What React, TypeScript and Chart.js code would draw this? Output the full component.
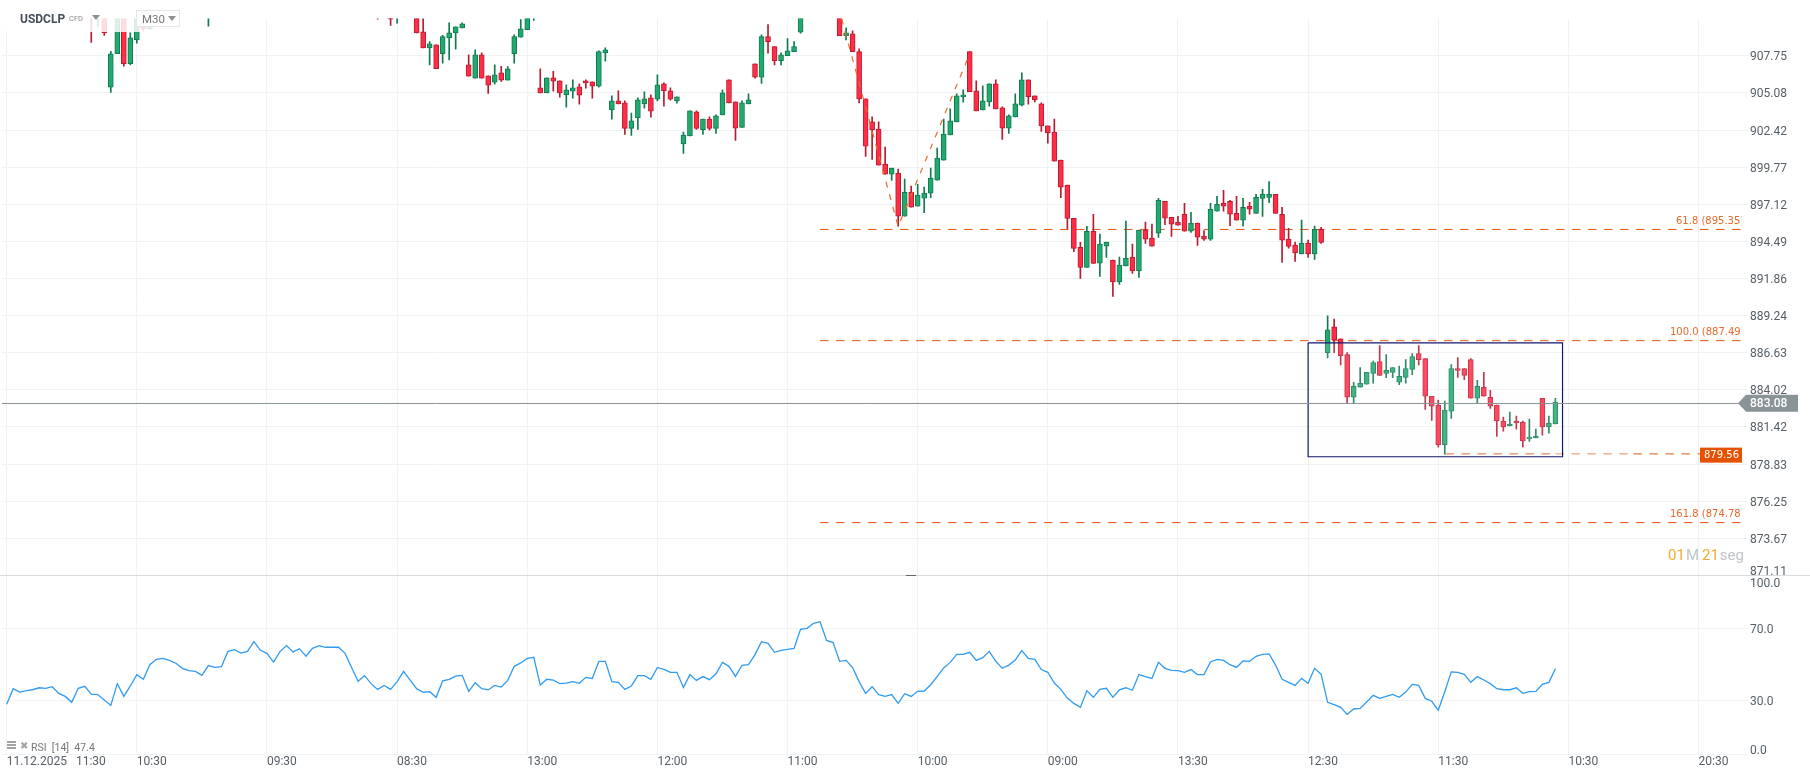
import { useEffect, useRef } from "react"
import { Chart, registerables } from "chart.js"

Chart.register(...registerables)

const FONT = "Roboto, sans-serif"
const GRID = "#f1f2f3"
const UP = "#22a96f"
const UP_EDGE = "#107a50"
const DOWN = "#ff2d46"
const DOWN_EDGE = "#b81b30"
const PRICE_GREY = "#8a9397"
const FIB = "#e0560e"

// Slot 0 is the first candle of the window, one vertical grid line every 20 slots
const timeLabels = [
  "11.12.2025   11:30", "10:30", "09:30", "08:30", "13:00", "12:00", "11:00",
  "10:00", "09:00", "13:30", "12:30", "11:30", "10:30", "20:30",
]
const priceTicks = [
  907.75, 905.08, 902.42, 899.77, 897.12, 894.49, 891.86, 889.24,
  886.63, 884.02, 881.42, 878.83, 876.25, 873.67, 871.11,
]
const rsiTicks = [100, 70, 30, 0]

const fibLevels = [61.8, 100, 161.8]
const fibPrices = [895.35, 887.49, 874.78]
const currentPrice = 883.08
const targetPrice = 879.56
const zigzagSlots = [128.3, 137, 148]
const zigzagPrices = [910.44, 895.56, 907.91]
const boxSlots = [200, 239.1]
const boxPrices = [887.34, 879.36]

// Candles above the top of the pane are clipped, only the visible ones are kept
const candleSlots = [
  13, 14, 15, 16, 17, 18, 19, 20, 21, 22,
  31, 57, 59, 60,
  63, 64, 65, 66, 67, 68, 69, 70, 71, 72,
  73, 74, 75, 76, 77, 78, 79, 80, 81, 82,
  83, 84, 85, 86, 87, 88, 89, 90, 91, 92,
  93, 94, 95, 96, 97, 98, 99, 100, 101, 102,
  103, 104, 105, 106, 107, 108, 109, 110, 111, 112,
  113, 114, 115, 116, 117, 118, 119, 120, 121, 122,
  128, 129, 130, 131, 132, 133, 134, 135, 136, 137,
  138, 139, 140, 141, 142, 143, 144, 145, 146, 147,
  148, 149, 150, 151, 152, 153, 154, 155, 156, 157,
  158, 159, 160, 161, 162, 163, 164, 165, 166, 167,
  168, 169, 170, 171, 172, 173, 174, 175, 176, 177,
  178, 179, 180, 181, 182, 183, 184, 185, 186, 187,
  188, 189, 190, 191, 192, 193, 194, 195, 196, 197,
  198, 199, 200, 201, 202, 203, 204, 205, 206, 207,
  208, 209, 210, 211, 212, 213, 214, 215, 216, 217,
  218, 219, 220, 221, 222, 223, 224, 225, 226, 227,
  228, 229, 230, 231, 232, 233, 234, 235, 236, 237, 238,
]
const opens = [
  911.6, 911.0, 911.5, 905.49, 907.89, 911.2, 907.17, 908.88, 911.0, 909.67,
  911.0, 911.0, 910.6, 911.0,
  911.5, 909.48, 908.32, 908.54, 907.89, 909.04, 909.40, 909.76, 907.10, 906.14,
  907.82, 906.31, 905.85, 906.52, 906.00, 907.89, 909.09, 909.62, 911.0, 905.44,
  905.08, 906.16, 905.95, 904.94, 905.20, 905.52, 905.95, 905.88, 905.56, 907.96,
  903.86, 904.51, 904.36, 902.54, 903.28, 904.29, 904.72, 904.63, 905.73, 905.23,
  904.51, 901.42, 901.99, 903.72, 902.42, 903.21, 902.54, 903.50, 906.02, 904.44,
  902.61, 904.29, 907.17, 906.21, 909.12, 908.40, 907.39, 907.75, 908.04, 909.45,
  911.5, 909.19, 909.33, 908.04, 904.65, 903.00, 902.49, 899.99, 899.27, 899.34,
  896.27, 897.98, 896.98, 897.55, 897.91, 898.84, 900.27, 902.06, 903.00, 904.80,
  908.04, 905.23, 903.86, 904.44, 905.73, 904.00, 902.56, 903.36, 904.20, 906.02,
  904.87, 904.29, 902.71, 902.28, 900.27, 898.48, 896.12, 894.06, 892.64, 895.20,
  892.95, 894.15, 893.16, 891.61, 892.74, 893.38, 892.39, 895.28, 894.72, 895.07,
  897.33, 896.20, 895.85, 896.41, 895.21, 895.78, 894.86, 894.65, 896.63, 897.19,
  897.33, 896.48, 895.99, 896.98, 896.48, 897.54, 897.61, 897.83, 896.41, 894.65,
  894.22, 893.59, 894.36, 893.59, 895.35, 886.63, 888.44, 887.60, 886.49, 883.50,
  884.20, 884.41, 885.17, 886.00, 885.17, 885.24, 884.55, 884.89, 885.45, 886.56,
  886.21, 883.57, 882.95, 880.17, 882.53, 885.52, 885.52, 886.14, 883.43, 884.20,
  883.50, 882.95, 881.84, 881.49, 881.84, 881.77, 880.59, 880.65, 883.43, 881.42, 881.63,
]
const closes = [
  911.0, 911.4, 909.40, 907.89, 911.0, 907.17, 909.04, 911.0, 909.69, 911.0,
  911.5, 910.50, 910.39, 911.4,
  909.40, 908.32, 908.61, 906.81, 909.12, 909.40, 909.84, 910.05, 906.28, 907.82,
  906.14, 905.64, 906.38, 906.00, 906.81, 909.12, 909.69, 911.0, 911.5, 905.08,
  906.16, 905.92, 905.08, 905.30, 905.44, 904.92, 905.80, 905.56, 908.04, 908.18,
  904.51, 904.29, 902.54, 903.07, 904.58, 904.65, 903.76, 905.66, 905.23, 904.63,
  904.80, 902.06, 903.79, 902.54, 903.21, 902.54, 903.43, 905.08, 904.36, 902.56,
  904.36, 904.58, 906.21, 909.12, 908.76, 907.39, 907.82, 908.11, 908.40, 911.0,
  909.19, 909.40, 908.04, 904.65, 901.27, 902.42, 899.91, 899.27, 899.70, 896.27,
  897.98, 896.91, 897.77, 897.91, 898.98, 900.41, 902.13, 903.07, 904.87, 904.94,
  905.16, 903.79, 904.51, 905.73, 903.93, 902.56, 903.43, 904.29, 906.02, 904.80,
  904.58, 902.71, 902.21, 900.20, 898.34, 896.12, 893.99, 892.64, 895.20, 892.92,
  894.29, 894.44, 891.61, 892.81, 893.30, 892.39, 895.28, 894.65, 894.15, 897.40,
  896.13, 895.71, 895.64, 895.21, 895.78, 894.79, 894.65, 896.77, 897.12, 896.98,
  896.41, 895.99, 896.91, 896.77, 897.61, 897.83, 897.83, 896.48, 894.58, 894.13,
  893.66, 894.36, 893.59, 895.35, 894.41, 888.23, 887.53, 886.42, 883.50, 884.27,
  884.48, 885.24, 885.94, 885.03, 885.38, 885.59, 884.96, 885.52, 886.35, 886.14,
  883.57, 882.88, 880.17, 882.60, 885.52, 885.38, 885.03, 883.43, 884.27, 883.57,
  882.88, 881.84, 881.42, 881.63, 881.70, 880.45, 880.72, 880.79, 881.42, 881.70, 883.16,
]
const highs = [
  911.8, 911.8, 911.8, 908.06, 911.2, 911.4, 909.40, 911.2, 911.2, 911.2,
  911.7, 911.2, 910.8, 911.6,
  911.7, 911.0, 908.76, 908.54, 909.21, 910.12, 909.84, 910.12, 907.82, 908.18,
  907.96, 906.31, 907.10, 906.98, 906.96, 909.26, 910.36, 911.2, 911.7, 906.81,
  906.16, 906.62, 905.95, 905.66, 906.02, 905.73, 906.02, 905.88, 908.11, 908.32,
  904.87, 905.23, 904.51, 903.64, 904.72, 905.16, 904.94, 906.38, 905.80, 905.44,
  904.80, 902.28, 903.79, 903.79, 903.21, 903.36, 903.50, 905.30, 906.02, 904.44,
  904.51, 905.01, 907.17, 909.26, 910.00, 908.40, 907.96, 908.98, 908.76, 911.2,
  911.7, 909.76, 909.55, 908.25, 904.65, 903.36, 903.00, 901.20, 899.70, 899.63,
  898.91, 898.41, 898.55, 898.34, 899.70, 901.13, 903.21, 903.93, 905.01, 905.30,
  908.04, 905.95, 905.59, 905.73, 906.02, 904.08, 903.50, 905.01, 906.52, 906.02,
  904.87, 904.36, 902.71, 903.21, 900.27, 898.48, 896.12, 894.42, 895.56, 896.41,
  895.00, 894.44, 893.16, 893.38, 895.92, 894.29, 895.28, 895.85, 895.71, 897.54,
  897.33, 896.20, 896.27, 897.19, 896.55, 895.78, 895.26, 897.19, 897.69, 898.11,
  897.40, 897.69, 897.54, 897.26, 897.83, 898.18, 898.74, 897.83, 896.91, 895.42,
  894.44, 895.99, 894.58, 895.57, 895.49, 889.22, 888.99, 887.60, 886.63, 884.55,
  885.59, 885.24, 886.03, 887.12, 886.49, 885.59, 885.68, 886.14, 886.56, 887.12,
  886.21, 883.57, 883.30, 883.23, 885.80, 886.28, 885.52, 886.21, 884.68, 885.24,
  883.99, 882.95, 882.11, 882.46, 882.18, 881.84, 881.98, 881.28, 883.43, 882.18, 883.43,
]
const lows = [
  908.71, 909.86, 909.21, 905.11, 907.89, 907.00, 907.08, 908.66, 909.57, 909.67,
  909.88, 910.39, 909.93, 910.10,
  909.40, 908.32, 907.08, 906.81, 907.22, 907.44, 908.23, 909.76, 906.28, 906.14,
  906.14, 905.04, 905.71, 905.90, 906.00, 907.22, 909.09, 909.62, 910.29, 905.08,
  905.08, 905.20, 904.77, 904.05, 904.70, 904.27, 905.42, 904.70, 905.49, 907.36,
  903.19, 904.29, 902.11, 902.04, 902.47, 903.98, 903.33, 904.51, 904.12, 904.56,
  904.34, 900.75, 901.99, 902.47, 902.11, 902.40, 902.18, 903.50, 904.36, 901.68,
  902.61, 904.29, 906.14, 905.76, 907.94, 907.08, 907.08, 907.75, 908.04, 909.38,
  909.19, 908.88, 908.04, 904.36, 900.53, 900.32, 899.91, 899.27, 898.82, 895.56,
  896.27, 896.91, 896.98, 896.53, 897.60, 898.84, 900.27, 902.06, 903.00, 904.41,
  905.16, 903.79, 903.86, 904.12, 903.93, 901.75, 902.18, 903.36, 904.15, 904.27,
  904.44, 902.32, 901.47, 900.20, 897.60, 895.39, 893.75, 891.86, 892.64, 892.92,
  892.01, 893.35, 890.60, 891.44, 892.74, 892.22, 891.94, 894.34, 894.15, 894.76,
  895.68, 894.84, 895.64, 895.21, 895.12, 894.20, 894.55, 894.55, 896.63, 896.63,
  895.61, 895.99, 895.57, 896.41, 896.48, 896.25, 897.24, 896.48, 893.00, 894.01,
  893.07, 893.59, 893.35, 893.21, 894.34, 886.26, 886.63, 885.77, 883.13, 883.09,
  884.20, 884.41, 884.48, 885.03, 884.87, 884.87, 884.38, 884.48, 885.08, 885.77,
  882.65, 881.88, 880.01, 879.52, 882.02, 884.89, 884.73, 883.43, 883.13, 883.57,
  882.72, 880.77, 881.12, 881.49, 881.26, 880.01, 880.42, 880.65, 880.84, 880.98, 881.63,
]

// One RSI value per slot, 0 to 238
const rsiValues = [
  27.6, 36.3, 34.4, 35.2, 35.7, 36.8, 36.5, 37.4, 33.7, 32.0,
  28.7, 36.5, 37.6, 33.3, 33.0, 30.0, 27.0, 39.1, 32.0, 37.8,
  44.1, 41.5, 49.6, 52.6, 53.1, 52.0, 50.4, 47.6, 46.3, 45.9,
  43.7, 49.1, 48.1, 48.5, 57.0, 58.0, 56.1, 57.0, 62.4, 57.6,
  55.9, 51.1, 56.9, 60.2, 56.7, 58.5, 54.3, 58.7, 60.2, 59.3,
  59.3, 59.3, 55.9, 48.1, 40.4, 43.5, 39.1, 35.9, 38.1, 35.9,
  40.2, 45.9, 41.1, 36.3, 34.3, 34.6, 31.5, 40.6, 41.5, 43.3,
  43.7, 34.8, 39.6, 36.3, 35.6, 38.1, 37.2, 40.9, 48.7, 50.6,
  53.1, 53.7, 38.3, 41.5, 41.1, 39.1, 39.4, 40.2, 39.3, 42.6,
  42.0, 51.5, 51.5, 40.2, 39.8, 35.9, 37.8, 43.5, 43.5, 41.5,
  48.1, 47.0, 45.4, 45.4, 37.0, 44.1, 40.9, 43.0, 41.3, 44.6,
  50.9, 48.7, 43.1, 49.3, 49.6, 55.2, 62.4, 61.5, 56.5, 57.6,
  58.1, 58.7, 69.3, 69.8, 72.6, 73.5, 63.1, 61.9, 51.5, 52.0,
  48.0, 40.2, 33.7, 37.4, 33.0, 32.0, 33.0, 28.1, 33.5, 32.0,
  34.8, 35.0, 38.5, 43.1, 47.8, 50.9, 55.4, 55.4, 56.5, 52.0,
  53.5, 57.0, 51.5, 47.6, 49.4, 52.2, 57.4, 53.1, 52.6, 46.9,
  45.4, 39.4, 35.9, 31.1, 28.1, 25.9, 35.2, 31.5, 35.9, 36.5,
  31.5, 35.6, 36.8, 35.4, 44.1, 43.0, 42.0, 50.9, 47.6, 46.5,
  46.3, 45.4, 46.9, 44.1, 44.1, 51.1, 52.6, 52.0, 49.6, 48.1,
  51.7, 51.5, 54.3, 55.4, 55.6, 49.4, 41.5, 39.8, 38.1, 42.0,
  39.3, 47.6, 44.3, 28.7, 27.4, 25.9, 22.0, 25.0, 25.3, 28.9,
  32.6, 30.9, 32.0, 33.1, 31.5, 34.4, 38.7, 38.1, 30.9, 29.3,
  24.3, 34.6, 45.6, 45.4, 44.3, 39.8, 43.0, 41.1, 39.1, 36.3,
  35.7, 35.7, 36.8, 33.7, 34.6, 34.8, 38.7, 39.8, 47.4,
]

const SLOT_MIN = -0.72
const SLOT_MAX = 267.6

const level = (slots: number[], price: number) => slots.map((x) => ({ x, y: price }))

const line = (data: { x: number; y: number }[], color: string, dash: number[], order: number, width = 1) => ({
  type: "line" as const,
  data,
  borderColor: color,
  borderWidth: width,
  borderDash: dash,
  pointRadius: 0,
  tension: 0,
  fill: false,
  order,
})

const timeGrid = (showLabels: boolean) => ({
  type: "linear" as const,
  min: SLOT_MIN,
  max: SLOT_MAX,
  offset: false,
  afterFit: (scale: any) => {
    scale.height = showLabels ? 25 : 0
  },
  afterBuildTicks: (scale: any) => {
    scale.ticks = timeLabels.map((_, i) => ({ value: i * 20 }))
  },
  grid: { color: GRID, lineWidth: 1, drawTicks: false, offset: false },
  border: { display: false },
  ticks: {
    display: showLabels,
    autoSkip: false,
    maxRotation: 0,
    align: "start" as const,
    padding: 1,
    color: "#555e66",
    font: { family: FONT, size: 12 },
    callback: (value: number | string) => timeLabels[Number(value) / 20],
  },
})

// Nudges the horizontal level lines onto whole pixel rows so they stay 1px sharp
const crispLines = {
  id: "crispLines",
  beforeDatasetDraw(chart: any, args: any) {
    if (args.meta.type === "line") {
      chart.ctx.save()
      chart.ctx.translate(0, 0.23)
    }
  },
  afterDatasetDraw(chart: any, args: any) {
    if (args.meta.type === "line") chart.ctx.restore()
  },
}

// Price labels, levels and the two price tags sit on top of the candles
const priceOverlay = {
  id: "priceOverlay",
  afterDatasetsDraw(chart: any) {
    const { ctx, scales } = chart
    const y = scales.y
    ctx.save()
    ctx.textBaseline = "middle"
    ctx.font = "10px 'DejaVu Sans'"
    ctx.fillStyle = "#e8692a"
    ctx.beginPath()
    ctx.rect(1600, 0, 141.5, 779)
    ctx.clip()
    fibLevels.forEach((lv, i) => {
      const text = `${lv.toFixed(1)} (${fibPrices[i].toFixed(2)})`
      ctx.fillText(text, i === 0 ? 1676 : 1670, y.getPixelForValue(fibPrices[i]) - 8)
    })
    ctx.restore()

    const targetY = y.getPixelForValue(targetPrice)
    ctx.fillStyle = "#e65100"
    ctx.fillRect(1700, targetY - 6, 42, 15)
    ctx.fillStyle = "#ffffff"
    ctx.textBaseline = "middle"
    ctx.font = "10px 'DejaVu Sans'"
    ctx.fillText(targetPrice.toFixed(2), 1704, targetY + 1.5)

    const nowY = y.getPixelForValue(currentPrice)
    ctx.fillStyle = PRICE_GREY
    ctx.beginPath()
    ctx.moveTo(1738, nowY)
    ctx.lineTo(1746, nowY - 8.5)
    ctx.lineTo(1798, nowY - 8.5)
    ctx.lineTo(1798, nowY + 8.5)
    ctx.lineTo(1746, nowY + 8.5)
    ctx.closePath()
    ctx.fill()
    ctx.fillStyle = "#ffffff"
    ctx.font = `500 12px ${FONT}`
    ctx.fillText(currentPrice.toFixed(2), 1750, nowY + 0.5)
  },
}

// A blank line next to a label moves it by half a line height, which is how
// the tick labels get their small vertical offsets from the grid lines
const tickFont = (value: number) => {
  let lineHeight = 0.25
  if (value === 871.11) lineHeight = 0.5
  if (value === 100) lineHeight = 1.6
  if (value === 0) lineHeight = 0.5
  return { family: FONT, size: 12, lineHeight }
}

const tickText = (value: number, text: string) =>
  value === 871.11 || value === 0 ? [text, ""] : ["", text]

export default function App() {
  const priceRef = useRef<HTMLCanvasElement>(null)
  const rsiRef = useRef<HTMLCanvasElement>(null)

  useEffect(() => {
    document.body.style.margin = "0"
    if (!priceRef.current || !rsiRef.current) return

    const isUp = candleSlots.map((_, i) => closes[i] >= opens[i])

    const priceChart = new Chart(priceRef.current, {
      type: "bar",
      data: {
        datasets: [
          {
            data: candleSlots.map((x, i) => ({ x, y: [lows[i], highs[i]] })),
            backgroundColor: isUp.map((u) => (u ? UP_EDGE : DOWN_EDGE)),
            barThickness: 1,
            grouped: false,
            clip: 0,
            order: 5,
          },
          {
            data: candleSlots.map((x, i) => ({
              x,
              y: [Math.min(opens[i], closes[i]), Math.max(opens[i], closes[i])],
            })),
            backgroundColor: isUp.map((u) => (u ? UP : DOWN)),
            borderColor: isUp.map((u) => (u ? UP_EDGE : DOWN_EDGE)),
            borderWidth: 1,
            borderSkipped: false,
            barThickness: 5,
            grouped: false,
            clip: 0,
            order: 4,
          },
          line(level([125, 266.7], fibPrices[0]), FIB, [8.5, 7.5], 6),
          line(level([125, 266.7], fibPrices[1]), FIB, [8.5, 7.5], 6),
          line(level([125, 266.7], fibPrices[2]), FIB, [8.5, 7.5], 6),
          line(level([221.1, 238], targetPrice), FIB, [8.5, 7.5], 6),
          line(level([238, 250], targetPrice), "#ec8f62", [8.5, 7.5], 6),
          line(level([250, 260.5], targetPrice), FIB, [8.5, 7.5], 6),
          line(zigzagSlots.map((x, i) => ({ x, y: zigzagPrices[i] })), "#ee6c28", [6, 7], 3, 1.2),
          {
            ...line(
              [
                { x: boxSlots[0], y: boxPrices[0] },
                { x: boxSlots[1], y: boxPrices[0] },
                { x: boxSlots[1], y: boxPrices[1] },
                { x: boxSlots[0], y: boxPrices[1] },
                { x: boxSlots[0], y: boxPrices[0] },
              ],
              "#10186e",
              [],
              1,
              1.2
            ),
            fill: "shape",
            backgroundColor: "rgba(248,248,252,0.14)",
          },
          line(level([SLOT_MIN, 266.3], currentPrice), PRICE_GREY, [], 0, 1),
        ] as any,
      },
      options: {
        responsive: false,
        animation: false,
        events: [],
        layout: { autoPadding: false, padding: { left: 2, right: 0, top: 18.4, bottom: 203.6 } },
        plugins: { legend: { display: false }, tooltip: { enabled: false } },
        scales: {
          x: timeGrid(false),
          y: {
            type: "logarithmic",
            position: "right",
            min: 871.11,
            max: 910.44,
            beginAtZero: false,
            afterFit: (scale: any) => {
              scale.width = 62
            },
            afterBuildTicks: (scale: any) => {
              scale.ticks = priceTicks.map((value) => ({ value }))
            },
            grid: { color: GRID, lineWidth: 1, drawTicks: false },
            border: { display: false },
            ticks: {
              autoSkip: false,
              padding: 2,
              color: "#555e66",
              font: (ctx: any) => tickFont(ctx.tick?.value),
              callback: (value: number | string) => tickText(Number(value), Number(value).toFixed(2)),
            },
          },
        },
      } as any,
      plugins: [crispLines, priceOverlay],
    })

    const rsiChart = new Chart(rsiRef.current, {
      type: "line",
      data: {
        datasets: [
          {
            data: rsiValues.map((y, x) => ({ x, y })),
            borderColor: "#2f9bf2",
            borderWidth: 1.3,
            pointRadius: 0,
            tension: 0,
          },
        ],
      },
      options: {
        responsive: false,
        animation: false,
        events: [],
        layout: { autoPadding: false, padding: { left: 2, right: 0, top: 574, bottom: 0 } },
        plugins: { legend: { display: false }, tooltip: { enabled: false } },
        scales: {
          x: timeGrid(true),
          y: {
            type: "linear",
            position: "right",
            min: 0,
            max: 100,
            afterFit: (scale: any) => {
              scale.width = 62
            },
            afterBuildTicks: (scale: any) => {
              scale.ticks = rsiTicks.map((value) => ({ value }))
            },
            grid: {
              color: (ctx: any) => (ctx.tick?.value === 100 ? "rgba(0,0,0,0)" : GRID),
              lineWidth: 1,
              drawTicks: false,
            },
            border: { display: false },
            ticks: {
              autoSkip: false,
              padding: 2,
              color: "#555e66",
              font: (ctx: any) => tickFont(ctx.tick?.value),
              callback: (value: number | string) => tickText(Number(value), Number(value).toFixed(1)),
            },
          },
        },
      } as any,
    })

    return () => {
      priceChart.destroy()
      rsiChart.destroy()
    }
  }, [])

  const canvasStyle = { position: "absolute", left: 0, top: 0, display: "block" } as const
  const abs = (left: number, top: number, extra: object = {}) => ({ position: "absolute", left, top, ...extra }) as const
  const caret = (left: number, top: number) =>
    abs(left, top, {
      width: 0,
      height: 0,
      borderLeft: "4.5px solid transparent",
      borderRight: "4.5px solid transparent",
      borderTop: "5px solid #8f8f8f",
    })

  return (
    <div style={{ position: "fixed", left: 0, top: 0, width: 1810, height: 779, overflow: "hidden", background: "#fff", fontFamily: FONT }}>
      <canvas ref={rsiRef} width={1810} height={779} style={canvasStyle} />
      <canvas ref={priceRef} width={1810} height={779} style={canvasStyle} />

      <div style={abs(0, 575, { width: 1810, height: 1, background: "#d9dadb" })} />
      <div style={abs(906, 575, { width: 10, height: 1, background: "#666" })} />

      <div style={abs(0, 0, { width: 182, height: 32, background: "rgba(255,255,255,0.84)" })} />
      <div style={abs(20, 11, { fontSize: 12, fontWeight: 700, color: "#444e57", lineHeight: "16px" })}>USDCLP</div>
      <div style={abs(69, 14, { fontSize: 7.5, color: "#888", lineHeight: "10px" })}>CFD</div>
      <div style={caret(92, 15)} />
      <div style={abs(136, 10, { width: 42, height: 15, border: "1px solid #e6e6e6", background: "#fff" })} />
      <div style={abs(142, 11, { fontSize: 11.5, color: "#777", lineHeight: "16px" })}>M30</div>
      <div style={caret(168, 16)} />

      <div style={abs(1668, 546, { fontSize: 15, lineHeight: "18px", whiteSpace: "nowrap", color: "#bfc4c8" })}>
        <span style={{ color: "#f7a82f" }}>01</span>
        <span style={{ marginLeft: 1 }}>M</span>
        <span style={{ color: "#f7a82f", marginLeft: 3 }}>21</span>
        <span style={{ marginLeft: 1 }}>seg</span>
      </div>

      <div style={abs(7, 741, { width: 9, height: 2, background: "#a3a3a3", boxShadow: "0 3px 0 #a3a3a3, 0 6px 0 #a3a3a3" })} />
      <div style={abs(20, 739, { fontSize: 10, color: "#a3a3a3", lineHeight: "14px", fontFamily: "'DejaVu Sans'" })}>✖</div>
      <div style={abs(31, 741, { fontSize: 10.5, color: "#777", lineHeight: "14px", whiteSpace: "pre" })}>RSI  [14]  47.4</div>
    </div>
  )
}
